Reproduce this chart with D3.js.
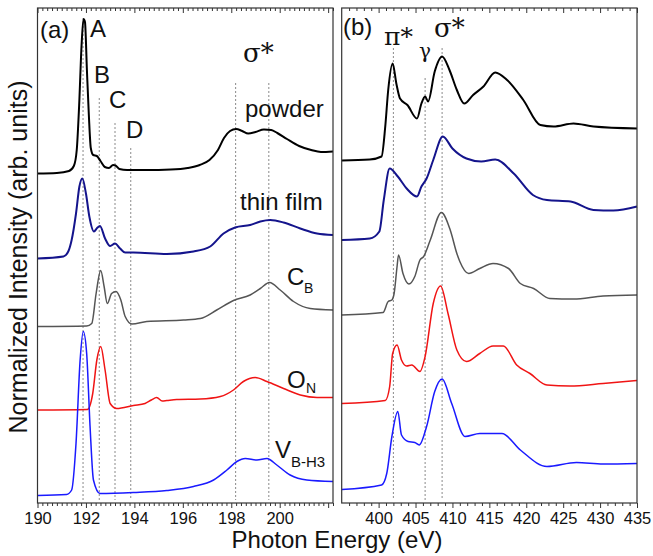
<!DOCTYPE html>
<html>
  <head>
    <script src="https://cdn.jsdelivr.net/npm/d3@7"></script>
    <style>
      body { margin: 0; background: #fff; }
      text { font-family: "Liberation Sans", Arial, sans-serif; fill: #111; }
      text.greek { font-family: "DejaVu Serif", "Liberation Serif", serif; }
      .tick text { font-size: 16.5px; }
    </style>
  </head>
  <body>
    <script>
      // panel (a): B K-edge, [energy eV, stacked intensity]
      const powderA = [[190,65.9],[190.8,66],[191.3,66.4],[191.5,67.4],[191.62,70.6],[191.72,79.6],[191.82,91.6],[191.9,96.8],[191.96,96.2],[192.04,86.6],[192.12,77.6],[192.2,71],[192.3,69.6],[192.45,69.4],[192.6,68.4],[192.78,67.2],[192.95,67],[193.12,67.6],[193.22,67.5],[193.38,66.8],[193.7,66.6],[194.5,66.6],[195.5,66.7],[196.2,67],[196.7,67.6],[197.1,68.6],[197.45,70.6],[197.7,73],[197.95,74.4],[198.2,74.8],[198.45,74.4],[198.7,73.9],[199,74.2],[199.35,74.7],[199.65,74.6],[199.9,74],[200.3,72.8],[200.8,71.4],[201.3,70.6],[201.7,70.2],[202.2,70.3]];
      const filmA = [[190,48.9],[191.07,49.3],[191.27,50.3],[191.41,52.6],[191.59,57.9],[191.73,63.3],[191.85,64.9],[192,61.9],[192.14,57.3],[192.33,54.3],[192.46,55],[192.58,55.4],[192.79,52.9],[193,51.4],[193.2,51.9],[193.41,50.9],[193.62,50.1],[193.96,50.1],[195.34,49.8],[196.44,50.3],[197.13,51.3],[197.68,53.9],[198.16,55.1],[198.78,55.6],[199.2,56.3],[199.61,56.6],[200.16,56.1],[200.85,54.9],[201.54,53.9],[202.2,53.6]];
      const cbA = [[190,35.3],[192.03,35.4],[192.24,35.9],[192.42,41.9],[192.61,46.5],[192.75,43.3],[192.88,39.9],[193.06,41.9],[193.24,42.3],[193.44,40.6],[193.62,37.3],[193.9,35.8],[194.51,36.3],[196.03,36.6],[196.72,36.9],[197.4,38.6],[198.09,40.5],[198.78,41.6],[199.2,42.9],[199.58,44.1],[200.02,42.6],[200.57,40.3],[201.26,38.9],[202.2,38.6]];
      const onA = [[190,18.6],[192.06,18.7],[192.28,21.9],[192.45,28.6],[192.61,31.3],[192.79,26.6],[193,19.9],[193.27,18.9],[193.96,19.5],[194.44,19.9],[194.7,20.6],[194.92,21.1],[195.15,20.4],[195.34,20.5],[195.75,20.7],[196.72,20.8],[197.55,21.3],[198.09,22.6],[198.5,24.3],[198.99,25.1],[199.47,24.3],[200.16,22.9],[200.85,21.6],[201.54,21.1],[202.2,21.1]];
      const vbA = [[190,1.5],[191.2,1.7],[191.41,2.6],[191.59,11.9],[191.76,28.6],[191.89,34.3],[192.03,29.9],[192.17,15.3],[192.31,4.6],[192.58,1.9],[193.96,2.1],[195.34,2.5],[196.44,3.3],[197.27,4.6],[197.82,6.6],[198.23,8.3],[198.58,8.9],[199.06,8.6],[199.47,8.9],[199.88,7.6],[200.43,5.6],[201.12,4.6],[202.2,4.3]];

      // panel (b): N K-edge
      const powderB = [[395,68.5],[398.8,68.7],[400.4,69.3],[400.9,75.3],[401.3,82.6],[401.9,87.9],[402.4,83.9],[402.9,80.9],[403.9,79.6],[405.2,76.9],[405.8,79.9],[406.3,81.3],[406.7,80.3],[407.6,86.3],[408.6,89.3],[409.6,86.6],[410.6,82.6],[411.6,79.9],[412.8,81.6],[414.2,83.3],[415.8,86.1],[417.4,84.6],[419.6,80.6],[421.9,75.6],[423.7,75.3],[426.4,75.9],[429.1,75.3],[435,74.9]];
      const filmB = [[395,52.6],[398.8,52.9],[400.1,54.3],[400.7,60.6],[401.5,66.9],[402.6,65.3],[403.8,62.9],[405.2,61.3],[405.8,63.3],[406.5,64.9],[407.4,68.6],[408.7,73.3],[410,70.9],[411.9,68.9],[413.9,68.3],[415.8,68.7],[418.3,65.9],[420.9,61.6],[422.8,60.6],[426,60.3],[429.1,58.6],[431.8,58.5],[435,59.3]];
      const cbB = [[395,37.6],[400.6,38.1],[401.3,40.3],[401.8,40.6],[402.1,41.9],[402.5,47.3],[402.7,49.6],[403.3,45.9],[404.1,43.8],[404.9,45.3],[405.6,48.6],[406.1,49.3],[407,52.6],[408.5,58.1],[409.7,54.6],[410.6,49.9],[411,48.3],[412.2,45.9],[413.7,46.9],[415.5,47.9],[417.6,46.9],[419.2,43.9],[421,42.9],[423.2,40.9],[426.4,40.8],[430.4,41.4],[435,41.6]];
      const onB = [[395,19.9],[400.9,20.5],[401.5,23.3],[401.9,29.9],[402.5,31.6],[403.1,28.6],[403.8,27.4],[404.5,27.6],[405.6,26.3],[406.3,29.3],[407.4,39.9],[408.4,43.4],[409.4,37.9],[410.6,30.6],[411.9,28.3],[413.7,29.9],[415.5,31.4],[416.9,31.4],[418.7,27.6],[420.5,25.9],[422.8,23.6],[425.9,23.4],[430.4,23.9],[435,24.5]];
      const vbB = [[395,2.7],[400.4,3.6],[401.1,5.9],[401.8,13.3],[402.6,18.3],[403.1,13.6],[404,12.3],[404.9,12.1],[405.5,11.6],[406.5,15.3],[407.6,22.3],[408.6,24.8],[409.9,19.9],[411.7,13.3],[413.7,13.9],[416.7,13.9],[419.2,10.6],[422.8,7.3],[426.8,8.1],[430.4,7.8],[435,7.9]];

      const colors = ['#000000', '#14148c', '#555555', '#f01414', '#1a1aff'];
      const widths = [2, 2, 1.5, 1.5, 1.5];

      // dashed guide lines: [energy, top intensity]
      const guidesA = [[191.88, 97], [192.55, 81], [193.2, 76], [193.85, 71], [198.18, 84], [199.55, 84]];
      const guidesB = [[402.0, 91], [406.3, 85], [408.6, 91]];

      const width = 653, height = 556;
      const plotTop = 8, plotBottom = 503;
      const svg = d3.select('body').append('svg').attr('width', width).attr('height', height);

      const y = d3.scaleLinear().domain([0, 99]).range([plotBottom, plotTop]);

      function panel(x0, x1, domain, majors, minors, labels, series, guides) {
        const x = d3.scaleLinear().domain(domain).range([x0, x1]);
        const g = svg.append('g');

        g.selectAll('line.guide').data(guides).join('line')
          .attr('x1', d => x(d[0])).attr('x2', d => x(d[0]))
          .attr('y1', d => y(d[1])).attr('y2', plotBottom - 3)
          .attr('stroke', '#8a8a8a').attr('stroke-width', 1).attr('stroke-dasharray', '2,2');

        const line = d3.line().x(d => x(d[0])).y(d => y(d[1])).curve(d3.curveMonotoneX);
        g.selectAll('path.spec').data(series).join('path')
          .attr('d', line).attr('fill', 'none')
          .attr('stroke', (d, i) => colors[i]).attr('stroke-width', (d, i) => widths[i]);

        // bottom axis, ticks out
        g.append('g').attr('transform', `translate(0,${plotBottom})`)
          .call(d3.axisBottom(x).tickValues(majors).tickSize(5).tickPadding(4)
            .tickFormat(d => labels.includes(d) ? d : ''));
        g.append('g').attr('transform', `translate(0,${plotBottom})`)
          .call(d3.axisBottom(x).tickValues(minors).tickSize(3).tickFormat(''));
        // top axis, ticks in
        g.append('g').attr('transform', `translate(0,${plotTop})`)
          .call(d3.axisBottom(x).tickValues(majors).tickSize(5).tickFormat(''));
        g.append('g').attr('transform', `translate(0,${plotTop})`)
          .call(d3.axisBottom(x).tickValues(minors).tickSize(3).tickFormat(''));
        g.selectAll('.domain').remove();
        g.selectAll('.tick line').attr('stroke', '#333');
        g.selectAll('.tick text').attr('fill', '#111');

        g.append('rect').attr('x', x0).attr('y', plotTop).attr('width', x1 - x0).attr('height', plotBottom - plotTop)
          .attr('fill', 'none').attr('stroke', '#333').attr('stroke-width', 1.2);
        return x;
      }

      const majorsA = d3.range(190, 202.01, 2);
      const minorsA = d3.range(190, 202.21, 0.2).filter(v => Math.abs(v / 2 - Math.round(v / 2)) > 0.01);
      panel(37.5, 333, [190, 202.2], majorsA, minorsA, [190, 192, 194, 196, 198, 200],
        [powderA, filmA, cbA, onA, vbA], guidesA);

      const majorsB = d3.range(400, 435.1, 5);
      const minorsB = d3.range(395, 435.1, 1).filter(v => v % 5 !== 0);
      panel(341.7, 637, [395, 435], majorsB, minorsB, majorsB, [powderB, filmB, cbB, onB, vbB], guidesB);

      // annotations
      const txt = (x, yy, s, size, anchor) => svg.append('text').attr('x', x).attr('y', yy)
        .attr('font-size', size).attr('text-anchor', anchor || 'start').text(s);

      txt(40, 38, '(a)', 24);
      txt(90, 37, 'A', 24);
      txt(94, 83, 'B', 24);
      txt(109, 108, 'C', 24);
      txt(126, 138, 'D', 24);
      txt(243, 62, 'σ*', 26).attr('class', 'greek');
      txt(245, 117, 'powder', 24);
      txt(240, 210, 'thin film', 24);
      txt(287, 285, 'C', 24); txt(304, 293, 'B', 14);
      txt(287, 388, 'O', 24); txt(306, 393, 'N', 14);
      txt(275, 458, 'V', 24); txt(291, 467, 'B-H3', 15);

      txt(343, 35, '(b)', 24);
      txt(384, 45, 'π*', 25).attr('class', 'greek');
      txt(419, 58, 'γ', 20).attr('class', 'greek');
      txt(434, 37, 'σ*', 26).attr('class', 'greek');

      svg.append('text').attr('transform', 'translate(27,257) rotate(-90)')
        .attr('text-anchor', 'middle').attr('font-size', 25).text('Normalized Intensity (arb. units)');
      txt(337, 548, 'Photon Energy (eV)', 24, 'middle');
    </script>
  </body>
</html>
